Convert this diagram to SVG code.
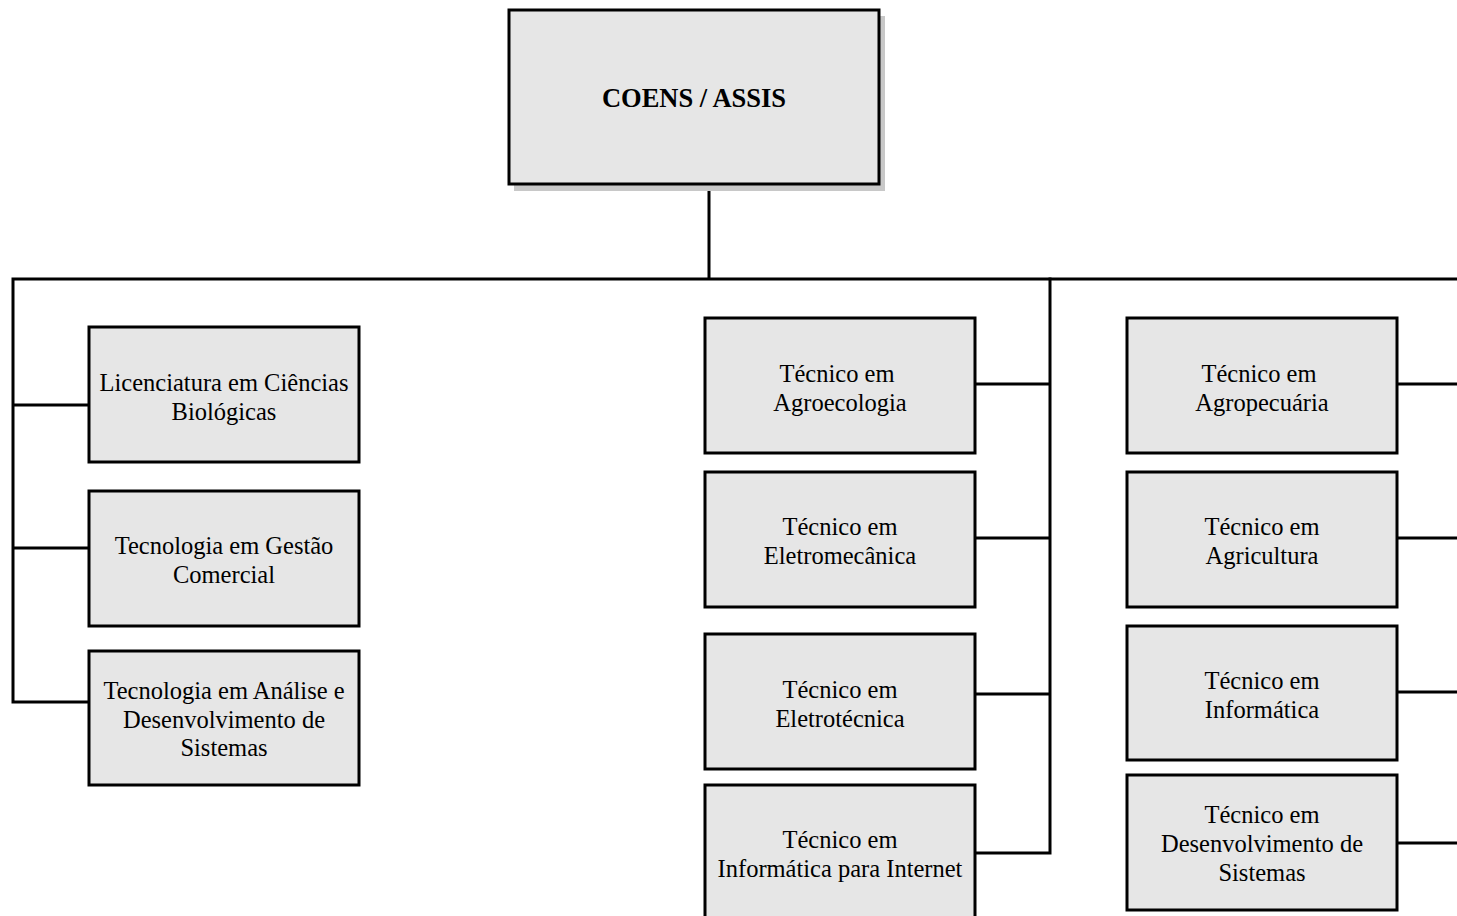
<svg xmlns="http://www.w3.org/2000/svg" width="1457" height="916" viewBox="0 0 1457 916">
<style>
.box{fill:#e6e6e6;stroke:#000;stroke-width:3}
.sh{fill:#c8c8c8}
.t{font-family:"Liberation Serif","Times New Roman",serif;font-size:24.5px;fill:#000;text-anchor:middle}
.b{font-weight:bold;font-size:26.5px}
.c{fill:none;stroke:#000;stroke-width:3;stroke-linecap:square}
</style>
<rect width="1457" height="916" fill="#fff"/>
<g id="connectors">
<path class="c" d="M709 185V279M13 279H1457M13 279V702M13 405H89M13 548H89M13 702H89"/>
<path class="c" d="M1050 279V853M975 384H1050M975 538H1050M975 694H1050M975 853H1050"/>
<path class="c" d="M1397 384H1457M1397 538H1457M1397 692H1457M1397 843H1457"/>
</g>
<g id="coens">
<rect class="sh" x="514" y="16" width="371" height="175"/>
<rect class="box" x="509" y="10" width="370" height="174"/>
<text class="t b" x="694" y="107">COENS / ASSIS</text>
</g>
<g id="lic">
<rect class="box" x="89" y="327" width="270" height="135"/>
<text class="t" x="224" y="391">Licenciatura em Ciências</text>
<text class="t" x="224" y="420">Biológicas</text>
</g>
<g id="gestao">
<rect class="box" x="89" y="491" width="270" height="135"/>
<text class="t" x="224" y="554">Tecnologia em Gestão</text>
<text class="t" x="224" y="583">Comercial</text>
</g>
<g id="ads">
<rect class="box" x="89" y="651" width="270" height="134"/>
<text class="t" x="224" y="699">Tecnologia em Análise e</text>
<text class="t" x="224" y="728">Desenvolvimento de</text>
<text class="t" x="224" y="756">Sistemas</text>
</g>
<g id="agroeco">
<rect class="box" x="705" y="318" width="270" height="135"/>
<text class="t" x="837" y="382">Técnico em</text>
<text class="t" x="840" y="411">Agroecologia</text>
</g>
<g id="eletromec">
<rect class="box" x="705" y="472" width="270" height="135"/>
<text class="t" x="840" y="535">Técnico em</text>
<text class="t" x="840" y="564">Eletromecânica</text>
</g>
<g id="eletrotec">
<rect class="box" x="705" y="634" width="270" height="135"/>
<text class="t" x="840" y="698">Técnico em</text>
<text class="t" x="840" y="727">Eletrotécnica</text>
</g>
<g id="infonet">
<rect class="box" x="705" y="785" width="270" height="140"/>
<text class="t" x="840" y="848">Técnico em</text>
<text class="t" x="840" y="877">Informática para Internet</text>
</g>
<g id="agropec">
<rect class="box" x="1127" y="318" width="270" height="135"/>
<text class="t" x="1259" y="382">Técnico em</text>
<text class="t" x="1262" y="411">Agropecuária</text>
</g>
<g id="agric">
<rect class="box" x="1127" y="472" width="270" height="135"/>
<text class="t" x="1262" y="535">Técnico em</text>
<text class="t" x="1262" y="564">Agricultura</text>
</g>
<g id="info">
<rect class="box" x="1127" y="626" width="270" height="134"/>
<text class="t" x="1262" y="689">Técnico em</text>
<text class="t" x="1262" y="718">Informática</text>
</g>
<g id="desenv">
<rect class="box" x="1127" y="775" width="270" height="135"/>
<text class="t" x="1262" y="823">Técnico em</text>
<text class="t" x="1262" y="852">Desenvolvimento de</text>
<text class="t" x="1262" y="881">Sistemas</text>
</g>
</svg>
